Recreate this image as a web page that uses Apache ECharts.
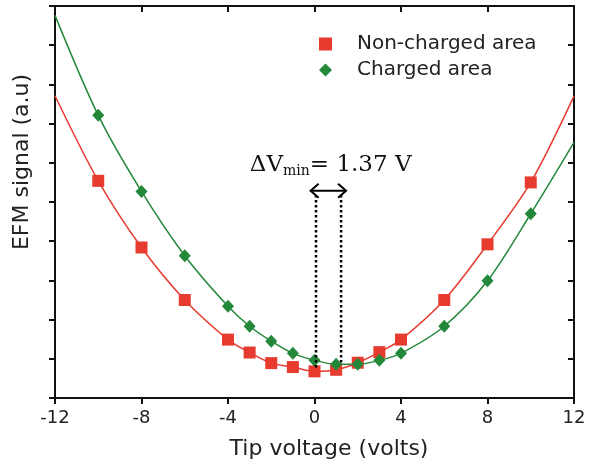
<!DOCTYPE html>
<html>
<head>
<meta charset="utf-8">
<script src="https://cdn.jsdelivr.net/npm/echarts@6/dist/echarts.min.js"></script>
<style>html,body{margin:0;padding:0;background:#fff}#c{width:589px;height:465px}</style>
</head>
<body>
<div id="c"></div>
<script>
// Marker data
var voltages = [-10, -8, -6, -4, -3, -2, -1, 0, 1, 2, 3, 4, 6, 8, 10];
var nonCharged = [5.54, 3.84, 2.50, 1.49, 1.16, 0.89, 0.79, 0.68, 0.72, 0.90, 1.17, 1.49, 2.50, 3.92, 5.50];
var charged = [7.21, 5.27, 3.63, 2.34, 1.83, 1.45, 1.14, 0.96, 0.86, 0.86, 0.96, 1.14, 1.83, 2.99, 4.70];
// Fitted curve end values (at -12 and 12 V)
var nonChargedEnds = [7.71, 7.70];
var chargedEnds = [9.76, 6.52];
var xTickLabels = ['-12', '-8', '-4', '0', '4', '8', '12'];
// Annotation (data coordinates)
var dVminText = '1.37 V';
var dottedX = [0.07, 1.23];
var dottedTop = 5.18;
var dottedBottom = [0.78, 0.86];
var arrowX = [-0.18, 1.46];
var arrowY = 5.29;

function pairs(xs, ys) { return xs.map(function (x, i) { return [x, ys[i]]; }); }
function curve(xs, ys, ends) {
  return [[-12, ends[0]]].concat(pairs(xs, ys)).concat([[12, ends[1]]]);
}

var RED = '#E63B2E', GREEN = '#23883A';
var SANS = '"DejaVu Sans", Arial, sans-serif';
var chart = echarts.init(document.getElementById('c'));
var axisLine = { onZero: false, lineStyle: { color: '#111', width: 2 } };
var option = {
  animation: false,
  grid: { left: 55, right: 15, top: 6, bottom: 64 },
  legend: {
    orient: 'vertical', left: 314, top: 29, itemGap: 6, itemWidth: 13, itemHeight: 13,
    data: [{ name: 'Non-charged area', icon: 'rect' }, { name: 'Charged area', icon: 'diamond' }],
    textStyle: { fontFamily: SANS, fontSize: 20, color: '#222', padding: [0, 0, 0, 20] }
  },
  xAxis: [{
    type: 'value', min: -12, max: 12, interval: 4, position: 'bottom',
    axisLine: axisLine, axisTick: { inside: false, length: 6, lineStyle: { width: 2, color: '#111' } },
    axisLabel: { fontFamily: SANS, fontSize: 18, color: '#222', margin: 11,
      formatter: function (v) { return xTickLabels[(v + 12) / 4]; } },
    splitLine: { show: false },
    name: 'Tip voltage (volts)', nameLocation: 'middle', nameGap: 40,
    nameTextStyle: { fontFamily: SANS, fontSize: 22, color: '#222', padding: [0, 0, 0, 29] }
  }, {
    type: 'value', min: -12, max: 12, interval: 4, position: 'top',
    axisLine: axisLine, axisTick: { inside: true, length: 6, lineStyle: { width: 2, color: '#111' } },
    axisLabel: { show: false }, splitLine: { show: false }
  }],
  yAxis: [{
    type: 'value', min: 0, max: 10, interval: 1, position: 'left',
    axisLine: axisLine, axisTick: { inside: false, length: 6, lineStyle: { width: 2, color: '#111' } },
    axisLabel: { show: false }, splitLine: { show: false },
    name: 'EFM signal (a.u)', nameLocation: 'middle', nameGap: 22, nameRotate: 90,
    nameTextStyle: { fontFamily: SANS, fontSize: 22, color: '#222', padding: [0, 0, 0, 80] }
  }, {
    type: 'value', min: 0, max: 10, interval: 1, position: 'right',
    axisLine: axisLine, axisTick: { inside: true, length: 6, lineStyle: { width: 2, color: '#111' } },
    axisLabel: { show: false }, splitLine: { show: false }
  }],
  series: [
    { name: 'nc-fit', type: 'line', smooth: 0.3, showSymbol: false, data: curve(voltages, nonCharged, nonChargedEnds),
      lineStyle: { color: RED, width: 1.5 }, z: 2, silent: true },
    { name: 'c-fit', type: 'line', smooth: 0.3, showSymbol: false, data: curve(voltages, charged, chargedEnds),
      lineStyle: { color: GREEN, width: 1.5 }, z: 2, silent: true },
    { name: 'Non-charged area', type: 'scatter', symbol: 'rect', symbolSize: 12, data: pairs(voltages, nonCharged),
      itemStyle: { color: RED, opacity: 1 }, z: 4 },
    { name: 'Charged area', type: 'scatter', symbol: 'diamond', symbolSize: [12, 13], data: pairs(voltages, charged),
      itemStyle: { color: GREEN, opacity: 1 }, z: 5 }
  ]
};
chart.setOption(option);

function px(x, y) { return chart.convertToPixel({ xAxisIndex: 0, yAxisIndex: 0 }, [x, y]); }
var g = [];
dottedX.forEach(function (x, i) {
  var a = px(x, dottedTop), b = px(x, dottedBottom[i]);
  g.push({ type: 'line', shape: { x1: a[0], y1: a[1], x2: b[0], y2: b[1] },
    style: { stroke: '#000', lineWidth: 2.5, lineDash: [2.5, 2.5] }, z: 10 });
});
var a0 = px(arrowX[0], arrowY), a1 = px(arrowX[1], arrowY);
g.push({ type: 'line', shape: { x1: a0[0], y1: a0[1], x2: a1[0], y2: a1[1] }, style: { stroke: '#000', lineWidth: 2 }, z: 10 });
g.push({ type: 'polyline', shape: { points: [[a0[0] + 8, a0[1] - 7], [a0[0], a0[1]], [a0[0] + 8, a0[1] + 7]] }, style: { stroke: '#000', lineWidth: 2, fill: null }, z: 10 });
g.push({ type: 'polyline', shape: { points: [[a1[0] - 8, a1[1] - 7], [a1[0], a1[1]], [a1[0] - 8, a1[1] + 7]] }, style: { stroke: '#000', lineWidth: 2, fill: null }, z: 10 });
var t = px(-2.99, 5.77);
g.push({ type: 'text', left: t[0], top: t[1] - 18, z: 10,
  style: { text: '\u0394V{s|min}= ' + dVminText, fill: '#111',
    font: '23px "DejaVu Serif", serif',
    rich: { s: { fontSize: 14, fontFamily: 'DejaVu Serif', verticalAlign: 'bottom', padding: [12, 0, 0, 0] } } } });
chart.setOption({ graphic: g });
</script>
</body>
</html>
